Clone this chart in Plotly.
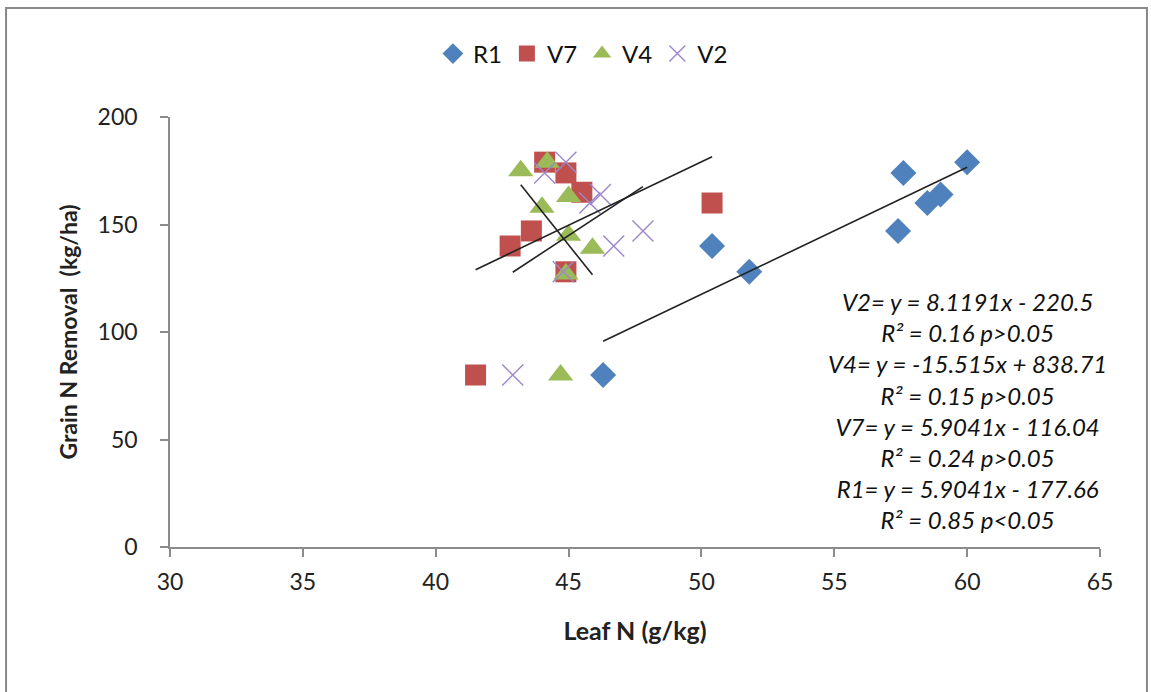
import plotly.graph_objects as go

# ---- data ----
r1_x = [46.3, 50.4, 51.8, 57.4, 57.6, 58.5, 59.0, 60.0]
r1_y = [80, 140, 128, 147, 174, 160, 164, 179]

v7_x = [41.5, 42.8, 43.6, 44.1, 44.9, 44.9, 45.5, 50.4]
v7_y = [80, 140, 147, 179, 174, 128, 165, 160]

v4_x = [43.2, 44.2, 44.0, 45.0, 45.0, 45.9, 44.9, 44.7]
v4_y = [175, 179, 158, 163, 145, 139, 127, 80]

v2_x = [42.9, 44.1, 44.9, 45.8, 46.2, 46.7, 47.8, 44.8]
v2_y = [80, 174, 179, 160, 164, 140, 147, 128]

# trendline coefficients (slope, intercept) as printed on the chart
trend = {
    "R1": (5.9041, -177.66),
    "V7": (5.9041, -116.04),
    "V4": (-15.515, 838.71),
    "V2": (8.1191, -220.5),
}

eq_lines = [
    "V2= y = 8.1191x - 220.5",
    "R² = 0.16 p>0.05",
    "V4= y = -15.515x + 838.71",
    "R² = 0.15 p>0.05",
    "V7= y = 5.9041x - 116.04",
    "R² = 0.24 p>0.05",
    "R1= y = 5.9041x - 177.66",
    "R² = 0.85 p<0.05",
]

x_ticks = [30, 35, 40, 45, 50, 55, 60, 65]
y_ticks = [0, 50, 100, 150, 200]

FONT = "Lato, 'Open Sans', sans-serif"

fig = go.Figure()

series = [
    ("R1", r1_x, r1_y, dict(symbol="diamond", size=20, color="#4F81BD")),
    ("V7", v7_x, v7_y, dict(symbol="square", size=21, color="#C0504D")),
    ("V4", v4_x, v4_y, dict(symbol="triangle-up", size=22, color="#9BBB59")),
    ("V2", v2_x, v2_y, dict(symbol="x-thin", size=21, color="#9C86CC",
                            line=dict(width=1.4, color="#9C86CC"))),
]

for name, xs, ys, mk in series:
    fig.add_trace(go.Scatter(x=xs, y=ys, mode="markers", name=name, marker=mk))

for name, xs, ys, mk in series:
    m, b = trend[name]
    x0, x1 = min(xs), max(xs)
    fig.add_trace(go.Scatter(
        x=[x0, x1], y=[m * x0 + b, m * x1 + b], mode="lines",
        line=dict(color="#222222", width=1.6), showlegend=False, hoverinfo="skip"))

fig.add_annotation(
    x=0.857, y=0.3186, xref="paper", yref="paper",
    text="<br>".join(eq_lines), showarrow=False, align="center",
    xanchor="center", yanchor="middle",
    font=dict(family=FONT, size=24, color="#111111", style="italic"),
)

fig.add_shape(type="rect", xref="paper", yref="paper",
              x0=-0.1763, x1=1.0505, y0=-0.36, y1=1.2535,
              line=dict(color="#888888", width=2), fillcolor="rgba(0,0,0,0)")

axis_common = dict(
    showgrid=False, zeroline=False, showline=True, linecolor="#8c8c8c", linewidth=1.5,
    ticks="outside", ticklen=8, tickcolor="#8c8c8c", tickwidth=1.5,
    tickfont=dict(family=FONT, size=23, color="#222222"),
)

fig.update_xaxes(range=[30, 65], tickvals=x_ticks, **axis_common,
                 ticklabelstandoff=6,
                 title=dict(text="<b>Leaf N (g/kg)</b>", font=dict(family=FONT, size=25, color="#222222"),
                            standoff=28))
fig.update_yaxes(range=[0, 200], tickvals=y_ticks, **axis_common,
                 ticklabelstandoff=18,
                 title=dict(text="<b>Grain N Removal  (kg/ha)</b>", font=dict(family=FONT, size=23, color="#222222"),
                            standoff=14))

fig.update_layout(
    width=1151, height=692,
    margin=dict(l=170, r=51, t=117, b=145),
    paper_bgcolor="white", plot_bgcolor="white",
    legend=dict(orientation="h", x=0.444, xanchor="center", y=1.1465, yanchor="middle",
                font=dict(family=FONT, size=24, color="#111111"), itemsizing="trace"),
    showlegend=True,
)

fig.write_html("out.html")
